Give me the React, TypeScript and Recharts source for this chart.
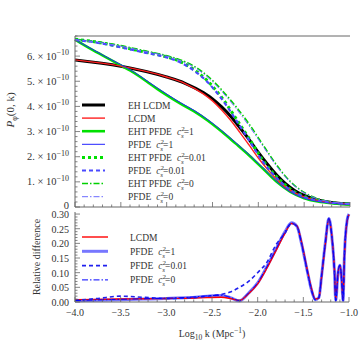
import { LineChart, Line, XAxis, YAxis, Legend } from 'recharts'

const SERIF = 'Liberation Serif, Times New Roman, serif'
const AXIS = '#666'
const TXT = '#333'

// ---- top panel: P_phi(0,k), in units of 1e-10 ----
const kLcdm = [-4.0, -3.5, -3.0, -2.8, -2.6, -2.5, -2.4, -2.3, -2.2, -2.1, -2.0, -1.9, -1.8, -1.7, -1.6, -1.5, -1.4, -1.3, -1.2, -1.1, -1.0]
const pEhLcdm = [5.85, 5.6, 5.17, 4.92, 4.55, 4.3, 3.98, 3.6, 3.15, 2.68, 2.17, 1.7, 1.27, 0.92, 0.65, 0.46, 0.33, 0.24, 0.18, 0.14, 0.12]
const pLcdm = [5.85, 5.6, 5.17, 4.91, 4.5, 4.22, 3.86, 3.44, 2.96, 2.46, 1.95, 1.5, 1.1, 0.78, 0.56, 0.4, 0.3, 0.22, 0.17, 0.14, 0.12]

const kPfde1 = [-4.0, -3.9, -3.8, -3.7, -3.6, -3.5, -3.4, -3.3, -3.2, -3.1, -3.0, -2.85, -2.7, -2.55, -2.4, -2.25, -2.1, -1.95, -1.8, -1.65, -1.5, -1.35, -1.2, -1.0]
const pPfde1 = [6.65, 6.45, 6.25, 6.05, 5.85, 5.66, 5.46, 5.23, 4.98, 4.73, 4.49, 4.15, 3.84, 3.47, 3.04, 2.57, 2.08, 1.56, 1.02, 0.6, 0.35, 0.22, 0.15, 0.1]
const pEht1 = [6.66, 6.44, 6.23, 6.03, 5.83, 5.63, 5.43, 5.2, 4.94, 4.69, 4.45, 4.11, 3.8, 3.43, 3.0, 2.53, 2.05, 1.53, 1.0, 0.6, 0.35, 0.22, 0.15, 0.1]

const kDash = [-4.0, -3.75, -3.5, -3.25, -3.0, -2.85, -2.7, -2.55, -2.4, -2.25, -2.1, -1.95, -1.8, -1.65, -1.5, -1.35, -1.2, -1.0]
const pPfde001 = [6.65, 6.53, 6.35, 6.15, 5.95, 5.75, 5.42, 4.95, 4.3, 3.5, 2.65, 1.8, 1.15, 0.68, 0.4, 0.26, 0.17, 0.12]
const pEht001 = [6.67, 6.55, 6.37, 6.17, 5.97, 5.78, 5.46, 5.0, 4.36, 3.56, 2.72, 1.86, 1.2, 0.71, 0.42, 0.27, 0.17, 0.12]
const pPfde0 = [6.65, 6.55, 6.4, 6.2, 6.0, 5.82, 5.56, 5.15, 4.6, 3.95, 3.22, 2.42, 1.62, 0.98, 0.56, 0.32, 0.2, 0.13]
const pEht0 = [6.67, 6.57, 6.42, 6.22, 6.02, 5.85, 5.6, 5.2, 4.66, 4.02, 3.3, 2.48, 1.67, 1.01, 0.58, 0.33, 0.2, 0.13]

// ---- bottom panel: relative difference ----
const kRel = [-4.0, -3.75, -3.5, -3.25, -3.0, -2.75, -2.55, -2.4, -2.3, -2.2, -2.1, -2.0, -1.9, -1.8, -1.7, -1.63, -1.57, -1.52, -1.46, -1.41, -1.37, -1.33, -1.3, -1.26, -1.22, -1.19, -1.16, -1.145, -1.12, -1.1, -1.08, -1.065, -1.05, -1.02, -1.0]
const relLcdm = [0.008, 0.009, 0.01, 0.011, 0.012, 0.013, 0.015, 0.016, 0.012, 0.005, 0.028, 0.062, 0.115, 0.175, 0.235, 0.268, 0.26, 0.205, 0.115, 0.045, 0.01, 0.013, 0.085, 0.195, 0.283, 0.232, 0.115, 0.008, 0.098, 0.124, 0.078, 0.008, 0.155, 0.277, 0.298]
const relPfde1 = [0.004, 0.006, 0.008, 0.01, 0.012, 0.015, 0.02, 0.022, 0.015, 0.004, 0.03, 0.065, 0.12, 0.18, 0.24, 0.27, 0.258, 0.2, 0.11, 0.04, 0.008, 0.015, 0.09, 0.2, 0.285, 0.23, 0.11, 0.005, 0.1, 0.125, 0.075, 0.005, 0.16, 0.28, 0.3]
const relPfde001 = [0.006, 0.012, 0.02, 0.016, 0.012, 0.014, 0.02, 0.026, 0.034, 0.05, 0.07, 0.1, 0.135, 0.195, 0.235, 0.268, 0.258, 0.2, 0.11, 0.04, 0.008, 0.015, 0.09, 0.2, 0.285, 0.23, 0.11, 0.005, 0.1, 0.125, 0.075, 0.005, 0.16, 0.28, 0.3]
const relPfde0 = [0.005, 0.007, 0.009, 0.011, 0.013, 0.016, 0.021, 0.023, 0.016, 0.005, 0.031, 0.066, 0.12, 0.18, 0.24, 0.27, 0.258, 0.2, 0.11, 0.04, 0.008, 0.015, 0.09, 0.2, 0.285, 0.23, 0.11, 0.005, 0.1, 0.125, 0.075, 0.005, 0.16, 0.28, 0.3]

// legend labels
const topNames = ['EH LCDM', 'LCDM', 'EHT PFDE', 'PFDE', 'EHT PFDE', 'PFDE', 'EHT PFDE', 'PFDE']
const topCs = ['', '', '1', '1', '0.01', '0.01', '0', '0']
const bottomNames = ['LCDM', 'PFDE', 'PFDE', 'PFDE']
const bottomCs = ['', '1', '0.01', '0']

const xTickValues = Array.from({ length: 31 }, (_, i) => Math.round((-4 + i * 0.1) * 10) / 10)
const topYTicks = Array.from({ length: 35 }, (_, i) => Math.round(i * 2) / 10)
const bottomYTicks = Array.from({ length: 31 }, (_, i) => Math.round(i) / 100)

const zip = (k: number[], v: number[]) => k.map((x, i) => ({ k: x, v: v[i] }))

type Sty = { color: string; width: number; dash?: string }
const topStyles: Sty[] = [
  { color: '#000000', width: 3 },
  { color: '#ff2020', width: 1.4 },
  { color: '#00e000', width: 2.6 },
  { color: '#2222ff', width: 1 },
  { color: '#00e000', width: 3, dash: '3 3' },
  { color: '#4a4aff', width: 2.2, dash: '4 3' },
  { color: '#00d000', width: 1.5, dash: '6 2 1.5 2' },
  { color: '#6a6aff', width: 1, dash: '6 2 1.5 2' },
]
const bottomStyles: Sty[] = [
  { color: '#ff0000', width: 1.4 },
  { color: '#7777ff', width: 3 },
  { color: '#2020ee', width: 1.6, dash: '4 3' },
  { color: '#0000ff', width: 1, dash: '6 2 1.5 2' },
]

const minus = (s: string) => s.replace('-', '\u2212')

function Cs({ v }: { v: string }) {
  return (
    <>
      <tspan dx={5} fontStyle="italic">c</tspan>
      <tspan dy={-4} fontSize={7}>2</tspan>
      <tspan dx={-3.6} dy={7} fontSize={7} fontStyle="italic">s</tspan>
      <tspan dy={-3}>={v}</tspan>
    </>
  )
}

function LegendBox({ names, cs, styles, gap, lineW, textX }: { names: string[]; cs: string[]; styles: Sty[]; gap: number; lineW: number; textX: number }) {
  return (
    <svg width={180} height={names.length * gap + 6} style={{ display: 'block', overflow: 'visible' }}>
      {names.map((n, i) => {
        const y = 6 + i * gap
        const s = styles[i]
        return (
          <g key={i}>
            <line x1={0} x2={lineW} y1={y} y2={y} stroke={s.color} strokeWidth={s.width} strokeDasharray={s.dash} />
            <text x={textX} y={y + 3.5} fontFamily={SERIF} fontSize={9.5} fill={TXT}>
              {n}
              {cs[i] ? <Cs v={cs[i]} /> : null}
            </text>
          </g>
        )
      })}
    </svg>
  )
}

const isMajorX = (v: number) => Math.abs(v * 2 - Math.round(v * 2)) < 1e-6

function XTick(props: any) {
  const { x, y, payload, dir, labels } = props
  const v = payload.value as number
  const major = isMajorX(v)
  const len = major ? 5 : 2.5
  return (
    <g>
      <line x1={x} x2={x} y1={y} y2={y + dir * len} stroke={AXIS} strokeWidth={0.8} />
      {labels && major ? (
        <text x={x} y={y + 13.5} textAnchor="middle" fontFamily={SERIF} fontSize={10} fill={TXT}>
          {minus(v.toFixed(1))}
        </text>
      ) : null}
    </g>
  )
}

function YTick(props: any) {
  const { x, y, payload, dir, kind } = props
  const v = payload.value as number
  const major = kind === 'top' ? Math.abs(v - Math.round(v)) < 1e-6 : Math.round(v * 100) % 5 === 0
  const len = major ? 5 : 2.5
  let label: any = null
  if (dir > 0 && major) {
    if (kind === 'top') {
      label =
        v === 0 ? (
          <text x={x - 6} y={y + 1.5} textAnchor="end" fontFamily={SERIF} fontSize={10.5} fill={TXT}>0</text>
        ) : (
          <text x={x - 6} y={y + 3.5} textAnchor="end" fontFamily={SERIF} fontSize={10.5} fill={TXT}>
            {Math.round(v)}. × 10<tspan dy={-4.5} fontSize={8}>{'\u221210'}</tspan>
          </text>
        )
    } else {
      label = (
        <text x={x - 6} y={y + 4} textAnchor="end" fontFamily={SERIF} fontSize={10} fill={TXT}>
          {v.toFixed(2)}
        </text>
      )
    }
  }
  return (
    <g>
      <line x1={x} x2={x + dir * len} y1={y} y2={y} stroke={AXIS} strokeWidth={0.8} />
      {label}
    </g>
  )
}

const topSeries = [
  zip(kLcdm, pEhLcdm),
  zip(kLcdm, pLcdm),
  zip(kPfde1, pEht1),
  zip(kPfde1, pPfde1),
  zip(kDash, pEht001),
  zip(kDash, pPfde001),
  zip(kDash, pEht0),
  zip(kDash, pPfde0),
]
const bottomSeries = [zip(kRel, relLcdm), zip(kRel, relPfde1), zip(kRel, relPfde001), zip(kRel, relPfde0)]
// draw order: thick ones first
const topOrder = [0, 2, 4, 6, 1, 3, 5, 7]
const bottomOrder = [1, 0, 2, 3]

export default function App() {
  return (
    <div style={{ position: 'absolute', left: 0, top: 0, width: 360, height: 361, background: '#fff' }}>
      <div style={{ position: 'absolute', left: 0, top: 0 }}>
        <LineChart width={360} height={215} margin={{ top: 35, right: 9, bottom: 7, left: 0 }}>
          <XAxis xAxisId="b" type="number" dataKey="k" domain={[-4, -1]} ticks={xTickValues} interval={0} height={1}
            axisLine={{ stroke: AXIS }} tickLine={false} tickSize={0} tickMargin={0}
            tick={(p: any) => <XTick {...p} dir={-1} labels={false} />} />
          <XAxis xAxisId="t" orientation="top" type="number" dataKey="k" domain={[-4, -1]} ticks={xTickValues} interval={0} height={1}
            axisLine={{ stroke: AXIS }} tickLine={false} tickSize={0} tickMargin={0}
            tick={(p: any) => <XTick {...p} dir={1} labels={false} />} />
          <YAxis yAxisId="l" type="number" domain={[0, 6.8]} ticks={topYTicks} interval={0} width={75}
            axisLine={{ stroke: AXIS }} tickLine={false} tickSize={0} tickMargin={0}
            tick={(p: any) => <YTick {...p} dir={1} kind="top" />}
            label={() => (
              <text transform="translate(14,110) rotate(-90)" textAnchor="middle" fontFamily={SERIF} fontSize={11} fill={TXT}>
                <tspan fontStyle="italic">P</tspan>
                <tspan dy={3} fontSize={8}>φ</tspan>
                <tspan dy={-3}>(0, k)</tspan>
              </text>
            )} />
          <YAxis yAxisId="r" orientation="right" type="number" domain={[0, 6.8]} ticks={topYTicks} interval={0} width={1}
            axisLine={false} tickLine={false} tickSize={0} tickMargin={0}
            tick={(p: any) => <YTick {...p} dir={-1} kind="top" />} />
          {topOrder.map((i) => (
            <Line key={i} xAxisId="b" yAxisId="l" data={topSeries[i]} dataKey="v" type="monotone" dot={false}
              stroke={topStyles[i].color} strokeWidth={topStyles[i].width} strokeDasharray={topStyles[i].dash}
              isAnimationActive={false} />
          ))}
          <Legend layout="vertical" align="center" verticalAlign="middle"
            wrapperStyle={{ left: 82, top: 99, width: 180, height: 112 }}
            content={() => <LegendBox names={topNames} cs={topCs} styles={topStyles} gap={13.1} lineW={23} textX={46} />} />
        </LineChart>
      </div>
      <div style={{ position: 'absolute', left: 0, top: 205 }}>
        <LineChart width={360} height={156} margin={{ top: 6, right: 10, bottom: 0, left: 0 }}>
          <XAxis xAxisId="b" type="number" dataKey="k" domain={[-4, -1]} ticks={xTickValues} interval={0} height={59}
            axisLine={{ stroke: AXIS }} tickLine={false} tickSize={0} tickMargin={0}
            tick={(p: any) => <XTick {...p} dir={-1} labels />}
            label={() => (
              <text x={212} y={132} textAnchor="middle" fontFamily={SERIF} fontSize={10} fill={TXT}>
                Log<tspan dy={2.5} fontSize={7.5}>10</tspan>
                <tspan dy={-2.5}> k (Mpc</tspan>
                <tspan dy={-4} fontSize={7.5}>{'\u22121'}</tspan>
                <tspan dy={4}>)</tspan>
              </text>
            )} />
          <XAxis xAxisId="t" orientation="top" type="number" dataKey="k" domain={[-4, -1]} ticks={xTickValues} interval={0} height={1}
            axisLine={false} tickLine={false} tickSize={0} tickMargin={0}
            tick={(p: any) => <XTick {...p} dir={1} labels={false} />} />
          <YAxis yAxisId="l" type="number" domain={[0, 0.307]} ticks={bottomYTicks} interval={0} width={75}
            axisLine={{ stroke: AXIS }} tickLine={false} tickSize={0} tickMargin={0}
            tick={(p: any) => <YTick {...p} dir={1} kind="bottom" />}
            label={() => (
              <text transform="translate(40,52) rotate(-90)" textAnchor="middle" fontFamily={SERIF} fontSize={10} fill={TXT}>
                Relative difference
              </text>
            )} />
          <YAxis yAxisId="r" orientation="right" type="number" domain={[0, 0.307]} ticks={bottomYTicks} interval={0} width={1}
            axisLine={false} tickLine={false} tickSize={0} tickMargin={0}
            tick={(p: any) => <YTick {...p} dir={-1} kind="bottom" />} />
          {bottomOrder.map((i) => (
            <Line key={i} xAxisId="b" yAxisId="l" data={bottomSeries[i]} dataKey="v" type="monotone" dot={false}
              stroke={bottomStyles[i].color} strokeWidth={bottomStyles[i].width} strokeDasharray={bottomStyles[i].dash}
              isAnimationActive={false} />
          ))}
          <Legend layout="vertical" align="center" verticalAlign="middle"
            wrapperStyle={{ left: 82, top: 26, width: 180, height: 60 }}
            content={() => <LegendBox names={bottomNames} cs={bottomCs} styles={bottomStyles} gap={14.3} lineW={26} textX={48} />} />
        </LineChart>
      </div>
    </div>
  )
}
